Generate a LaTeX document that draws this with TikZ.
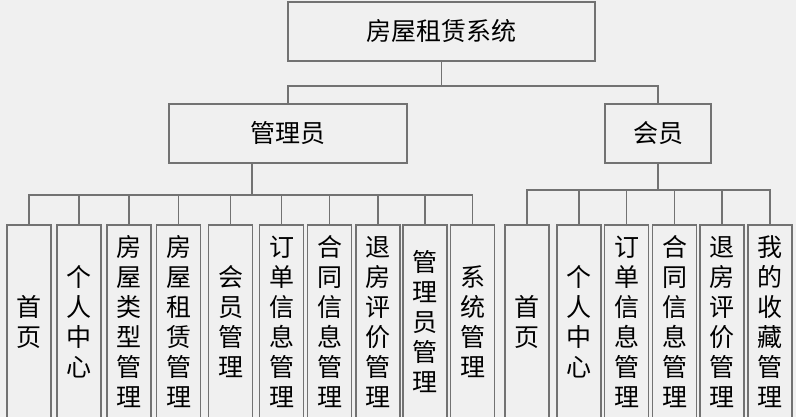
\documentclass[tikz,border=0pt]{standalone}
\usepackage{fontspec}
\newfontfamily\cjk{Noto Sans CJK SC}
\definecolor{bgc}{HTML}{F0F0F0}
\definecolor{linec}{HTML}{727272}
\begin{document}
\begin{tikzpicture}[x=1pt,y=-1pt,
  box/.style={draw=linec,line width=1.1pt,fill=bgc,rectangle,inner sep=0pt,
    font=\cjk\fontsize{25}{30}\selectfont,text=black,minimum height=59pt},
  leaf/.style={draw=linec,line width=1.1pt,fill=bgc,rectangle,inner sep=0pt,
    font=\cjk\fontsize{25}{30}\selectfont,text=black,align=center,
    minimum width=44pt,minimum height=194pt},
  conn/.style={draw=linec,line width=1.1pt}]
\fill[bgc] (0,0) rectangle (796,417);
\useasboundingbox (0,0) rectangle (796,417);
% top levels
\node[box,minimum width=307pt] (root) at (441.5,31.5) {房屋租赁系统};
\node[box,minimum width=238pt] (admin) at (288,133.5) {管理员};
\node[box,minimum width=106pt] (member) at (658,133.5) {会员};
% admin leaves
\node[leaf] (a1) at (29,322) {首\\页};
\node[leaf] (a2) at (79,322) {个\\人\\中\\心};
\node[leaf] (a3) at (129,322) {房\\屋\\类\\型\\管\\理};
\node[leaf] (a4) at (178.5,322) {房\\屋\\租\\赁\\管\\理};
\node[leaf] (a5) at (230.5,322) {会\\员\\管\\理};
\node[leaf] (a6) at (281.5,322) {订\\单\\信\\息\\管\\理};
\node[leaf] (a7) at (329.5,322) {合\\同\\信\\息\\管\\理};
\node[leaf] (a8) at (378,322) {退\\房\\评\\价\\管\\理};
\node[leaf] (a9) at (425,322) {管\\理\\员\\管\\理};
\node[leaf] (a10) at (472.5,322) {系\\统\\管\\理};
% member leaves
\node[leaf] (m1) at (527,322) {首\\页};
\node[leaf] (m2) at (579,322) {个\\人\\中\\心};
\node[leaf] (m3) at (626.5,322) {订\\单\\信\\息\\管\\理};
\node[leaf] (m4) at (674.5,322) {合\\同\\信\\息\\管\\理};
\node[leaf] (m5) at (722,322) {退\\房\\评\\价\\管\\理};
\node[leaf] (m6) at (770,322) {我\\的\\收\\藏\\管\\理};
% buses
\coordinate (rb) at (441.5,86);
\coordinate (ab) at (252,195);
\coordinate (mb) at (658,190);
\draw[conn] (root.south) -- (rb);
\draw[conn] (rb) -| (admin.north);
\draw[conn] (rb) -| (member.north);
\draw[conn] (ab |- admin.south) -- (ab);
\foreach \n in {a1,a2,a3,a4,a5,a6,a7,a8,a9,a10}{
  \draw[conn] (ab) -| (\n.north);
}
\draw[conn] (member.south) -- (mb);
\foreach \n in {m1,m2,m3,m4,m5,m6}{
  \draw[conn] (mb) -| (\n.north);
}
\end{tikzpicture}
\end{document}
